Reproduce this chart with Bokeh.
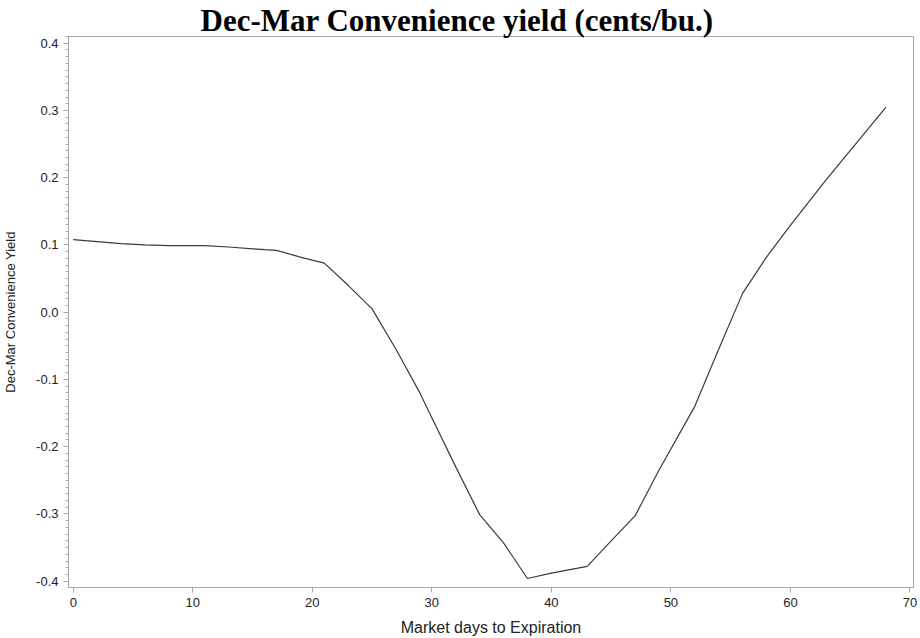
from bokeh.plotting import figure
from bokeh.models import Range1d, FixedTicker, PrintfTickFormatter, ColumnDataSource
from bokeh.embed import file_html
from bokeh.resources import INLINE

# Data
days = [0, 4, 6, 8, 11, 13, 16, 17, 19, 21, 23, 25, 27, 29, 30, 32, 34, 36, 38,
        40, 43, 45, 47, 49, 52, 54, 56, 58, 60, 63, 66, 68]
conv_yield = [0.108, 0.102, 0.100, 0.099, 0.099, 0.097, 0.093, 0.092, 0.082, 0.073,
              0.040, 0.005, -0.055, -0.120, -0.157, -0.230, -0.301, -0.343, -0.396,
              -0.388, -0.378, -0.340, -0.303, -0.235, -0.140, -0.055, 0.028, 0.082,
              0.129, 0.197, 0.262, 0.305]

x_ticks = [0, 10, 20, 30, 40, 50, 60, 70]
y_ticks = [-0.4, -0.3, -0.2, -0.1, 0.0, 0.1, 0.2, 0.3, 0.4]
y_minor = [round(-0.41 + 0.01 * i, 2) for i in range(83)]

title_text = "Dec-Mar Convenience yield (cents/bu.)"
x_label = "Market days to Expiration"
y_label = "Dec-Mar Convenience Yield"

W, H = 920, 638
p = figure(width=W, height=H, output_backend="svg", toolbar_location=None,
           x_range=Range1d(-0.4, 70.3), y_range=Range1d(-0.4094, 0.41),
           min_border_left=68, min_border_top=36, min_border_right=7, min_border_bottom=50)
p.grid.visible = False
p.outline_line_color = "#a4a8ad"
p.outline_line_width = 1
p.background_fill_color = "white"
p.border_fill_color = "white"

src = ColumnDataSource(dict(x=days, y=conv_yield))
p.line("x", "y", source=src, line_color="#3a3a3a", line_width=1.2)

axis_color = "#a4a8ad"
for ax in (p.xaxis[0], p.yaxis[0]):
    ax.axis_line_color = axis_color
    ax.major_tick_line_color = axis_color
    ax.minor_tick_line_color = axis_color
    ax.major_tick_out = 5
    ax.major_tick_in = 0
    ax.minor_tick_in = 0
    ax.major_label_text_font = "Liberation Sans"
    ax.major_label_text_font_size = "13px"
    ax.major_label_text_color = "#222222"
    ax.axis_label_text_font = "Liberation Sans"
    ax.axis_label_text_font_style = "normal"
    ax.axis_label_text_color = "#222222"
    ax.major_label_standoff = 5

p.xaxis.ticker = FixedTicker(ticks=x_ticks)
p.xaxis.minor_tick_out = 0
p.xaxis.axis_label = x_label
p.xaxis.axis_label_text_font_size = "16px"
p.xaxis.axis_label_standoff = 9

p.yaxis.ticker = FixedTicker(ticks=y_ticks, minor_ticks=y_minor)
p.yaxis.minor_tick_out = 3
p.yaxis.formatter = PrintfTickFormatter(format="%.1f")
p.yaxis.axis_label = y_label
p.yaxis.axis_label_text_font_size = "13px"
p.yaxis.axis_label_standoff = 15

p.title.text = title_text
p.title.align = "left"
p.title.offset = 132
p.title.vertical_align = "top"
p.title.standoff = -6
p.title.text_font = "Liberation Serif"
p.title.text_font_style = "bold"
p.title.text_font_size = "31px"
p.title.text_color = "black"

open("out.html", "w").write(file_html(p, INLINE))
